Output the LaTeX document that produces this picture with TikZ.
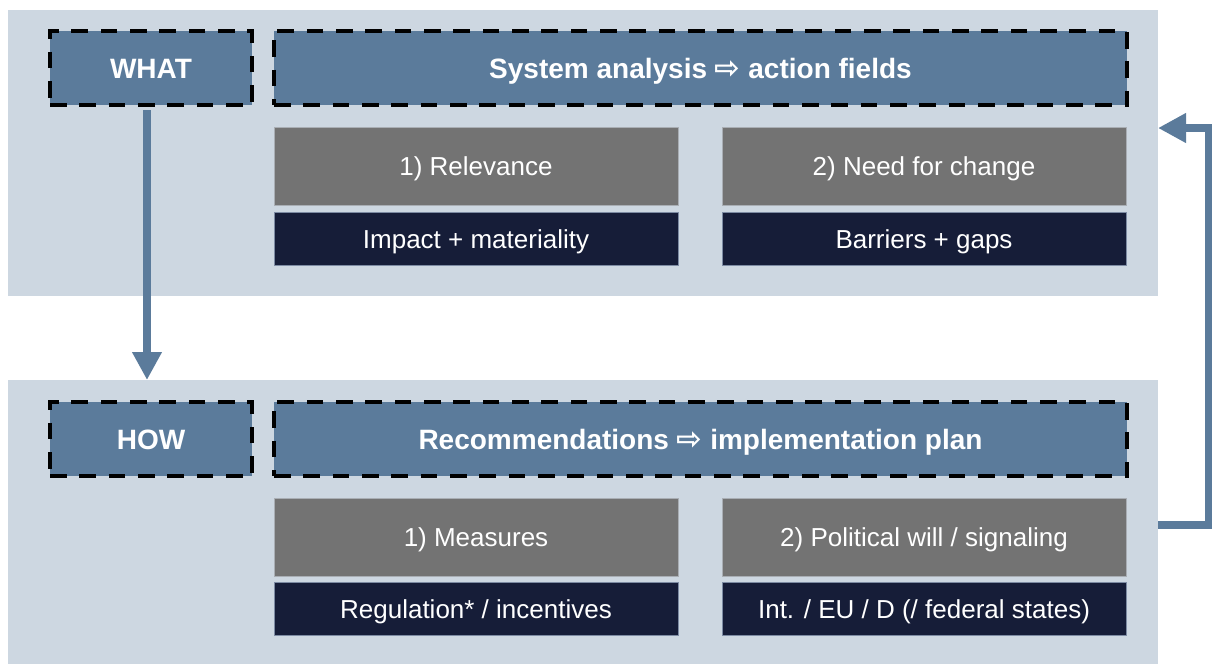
\documentclass[tikz,border=0pt]{standalone}
\usepackage{fontspec}
\setmainfont{Liberation Sans}
\newfontfamily\symfont{DejaVu Sans}
\usetikzlibrary{arrows.meta}
\definecolor{panelbg}{HTML}{CDD7E1}
\definecolor{bluebox}{HTML}{5B7B9B}
\definecolor{graybox}{HTML}{737373}
\definecolor{darkbox}{HTML}{161D38}
\definecolor{darkedge}{HTML}{7D8BA3}
\definecolor{grayedge}{HTML}{A9AEB4}
\begin{document}
\begin{tikzpicture}[x=0.75pt,y=-0.75pt,
  panel/.style={fill=panelbg, draw=none, inner sep=0pt, outer sep=0pt, minimum width=862.5pt},
  dashbox/.style={text height=15.5pt, text depth=0pt, fill=bluebox, draw=black, line width=3pt, dash pattern=on 12.5pt off 9.5pt,
    text=white, font=\fontsize{21}{25}\selectfont\bfseries, minimum height=55.5pt, inner sep=0pt, outer sep=0pt},
  graylbl/.style={text height=14.5pt, text depth=0pt, fill=graybox, draw=grayedge, line width=0.6pt, text=white, font=\fontsize{19.5}{23}\selectfont,
    minimum width=303pt, minimum height=58.5pt, inner sep=0pt, outer sep=0pt},
  darklbl/.style={text height=14.5pt, text depth=0pt, fill=darkbox, draw=darkedge, line width=0.6pt, text=white, font=\fontsize{19.5}{23}\selectfont,
    minimum width=303pt, minimum height=39.75pt, inner sep=0pt, outer sep=0pt},
  flow/.style={draw=bluebox, line width=6pt, -{Triangle[width=21pt,length=21pt]}, shorten >=0pt}
]
\useasboundingbox (0,0) rectangle (1212,664);
% panels
\node[panel, minimum height=214.5pt] (toppanel) at (583,153) {};
\node[panel, minimum height=213pt] (botpanel) at (583,522) {};
% top row
\node[dashbox, minimum width=151.5pt] (what) at (151,68) {WHAT};
\node[dashbox, minimum width=639.75pt] (sys) at (700.5,68) {System analysis {\symfont\fontsize{23}{25}\selectfont ⇨} action fields};
\node[graylbl] (rel) at (476,166) {1) Relevance};
\node[graylbl] (need) at (924,166) {2) Need for change};
\node[darklbl] (imp) at (476,238.5) {Impact + materiality};
\node[darklbl] (bar) at (924,238.5) {Barriers + gaps};
% bottom row
\node[dashbox, minimum width=151.5pt] (how) at (151,439) {HOW};
\node[dashbox, minimum width=639.75pt] (rec) at (700.5,439) {Recommendations {\symfont\fontsize{23}{25}\selectfont ⇨} implementation plan};
\node[graylbl] (meas) at (476,537) {1) Measures};
\node[graylbl] (pol) at (924,537) {2) Political will / signaling};
\node[darklbl] (reg) at (476,609) {Regulation* / incentives};
\node[darklbl] (intl) at (924,609) {Int. / EU / D (/ federal states)};
% down arrow
\coordinate (dstart) at (147,110);
\draw[flow] (dstart) -- (dstart |- botpanel.north);
% feedback arrow
\coordinate (fb1) at (1209,524.5);
\coordinate (fb2) at (1209,128);
\draw[flow, line join=miter] (botpanel.east |- fb1) -- (fb1) -- (fb2) -- (toppanel.east |- fb2);
\end{tikzpicture}
\end{document}
